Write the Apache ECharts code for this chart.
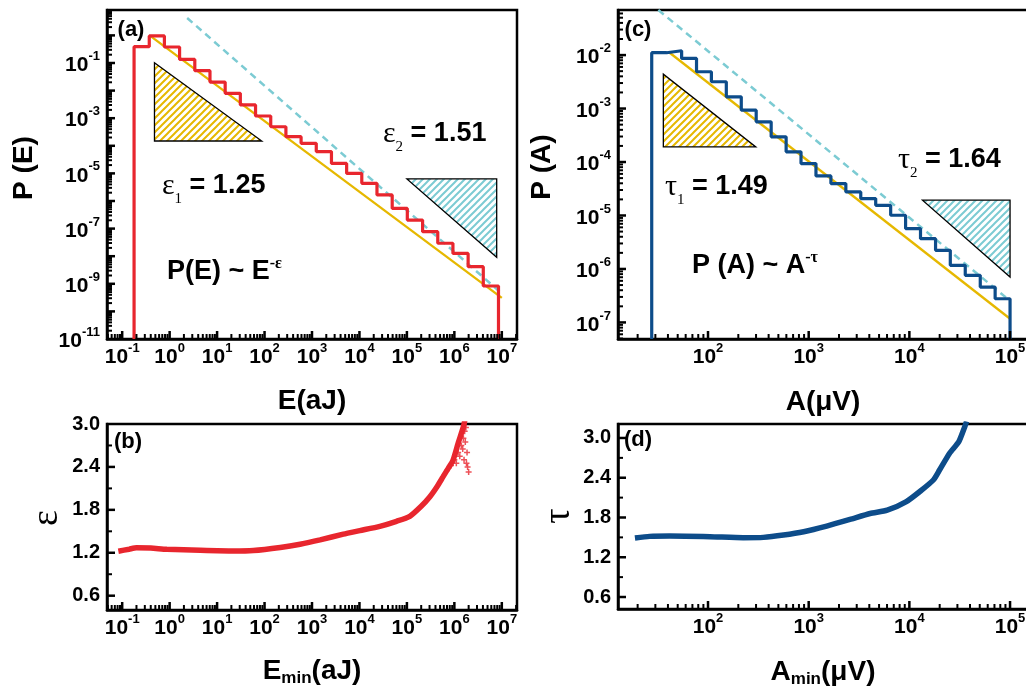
<!DOCTYPE html>
<html>
<head>
<meta charset="utf-8">
<script src="https://cdn.jsdelivr.net/npm/echarts@6/dist/echarts.min.js"></script>
<style>
  html, body { margin: 0; padding: 0; background: #fff; }
  #chart { width: 1026px; height: 689px; }
</style>
</head>
<body>
<div id="chart"></div>
<script>
// ---- (a) energy distribution: log bins (aJ) and probability per bin
const eEdges = [0.178, 0.372, 0.776, 1.62, 3.39, 7.08, 14.8, 30.9, 64.6, 135, 282, 589, 1230,
  2570, 5370, 11200, 23400, 49000, 102000, 214000, 447000, 933000, 1950000, 4070000, 8510000];
const eProb = [0.389, 0.955, 0.380, 0.135, 0.0525, 0.0204, 7.94e-3, 3.02e-3, 1.20e-3, 4.90e-4,
  2.14e-4, 1.23e-4, 6.17e-5, 2.29e-5, 1.00e-5, 4.37e-6, 1.66e-6, 5.37e-7, 2.04e-7, 7.76e-8,
  2.95e-8, 1.26e-8, 4.17e-9, 8.32e-10];
// fitted power laws, end points [E, P]
const eFit1 = [[0.39, 0.955], [1.0e7, 3.09e-10]];   // eps1 = 1.25
const eFit2 = [[2.34, 4.27], [9.8e6, 4.6e-10]];     // eps2 = 1.51
// slope triangles [x, y] vertices
const eTri1 = [[0.479, 0.102], [0.479, 1.49e-4], [87.3, 1.49e-4]];
const eTri2 = [[1.0e5, 6.3e-6], [7.8e6, 6.3e-6], [7.8e6, 9.1e-9]];

// ---- (b) exponent vs E_min
const epsEmin = [0.083, 0.14, 0.20, 0.40, 0.87, 4.4, 22, 58, 214, 562, 1480, 4570, 10200, 26900,
  60300, 115000, 200000, 302000, 427000, 575000, 741000, 933000, 1200000, 1550000, 1660000];
const epsVal = [1.222, 1.25, 1.27, 1.265, 1.25, 1.235, 1.225, 1.232, 1.275, 1.32, 1.38, 1.46,
  1.51, 1.57, 1.64, 1.71, 1.85, 1.98, 2.12, 2.26, 2.38, 2.49, 2.73, 2.96, 3.05];
const epsNoiseX = [7.0e5, 8.5e5, 1.0e6, 1.1e6, 1.2e6, 1.3e6, 1.4e6, 1.5e6, 1.55e6, 1.6e6, 1.65e6,
  1.7e6, 1.75e6, 1.8e6, 1.85e6, 1.9e6, 2.0e6];
const epsNoiseY = [2.35, 2.42, 2.5, 2.45, 2.6, 2.55, 2.7, 2.65, 2.8, 2.5, 2.9, 2.75, 2.95, 2.45,
  2.6, 2.4, 2.33];

// ---- (c) amplitude distribution: log bins (uV) and probability per bin
const aEdges = [27.6, 38.8, 54.7, 76.9, 108, 152, 214, 301, 424, 597, 839, 1181, 1662, 2339,
  3290, 4630, 6520, 9170, 12900, 18200, 25500, 35900, 50600, 71100, 100000];
const aProb = [0.01107, 0.01205, 8.67e-3, 4.88e-3, 3.17e-3, 1.66e-3, 9.33e-4, 5.65e-4, 2.96e-4,
  1.55e-4, 9.35e-5, 5.50e-5, 3.95e-5, 2.76e-5, 2.07e-5, 1.55e-5, 1.01e-5, 5.68e-6, 3.69e-6,
  2.23e-6, 1.17e-6, 7.59e-7, 4.59e-7, 2.77e-7];
const aFit1 = [[40.4, 0.01153], [100000, 1.17e-7]];  // tau1 = 1.49
const aFit2 = [[32.1, 0.0697], [93300, 2.82e-7]];    // tau2 = 1.64
const aTri1 = [[36, 4.4e-3], [36, 1.92e-4], [298, 1.92e-4]];
const aTri2 = [[13500, 1.93e-5], [1.0e5, 1.93e-5], [1.0e5, 7.06e-7]];

// ---- (d) exponent vs A_min
const tauAmin = [18.8, 26.3, 41.7, 105, 224, 355, 562, 891, 1510, 2570, 4070, 6030, 9330, 12900,
  17400, 20000, 25100, 30900, 35500, 37000];
const tauVal = [1.49, 1.515, 1.52, 1.51, 1.495, 1.50, 1.535, 1.585, 1.67, 1.77, 1.86, 1.91, 2.04,
  2.2, 2.37, 2.52, 2.77, 2.94, 3.17, 3.25];

const RED = '#e8262e', BLUE = '#0d4c8a', YELLOW = '#e6b800', CYAN = '#7ccbd3';
const FONT = 'Liberation Sans, Arial, sans-serif';
const SERIF = 'Liberation Serif, Times New Roman, serif';
const lg = Math.log10;

function range(a, b) { const r = []; for (let i = a; i <= b; i++) r.push(i); return r; }
function logMinor(lo, hi) {
  const out = [];
  for (let k = Math.floor(lo); k <= Math.ceil(hi); k++)
    for (let m = 2; m <= 9; m++) { const v = k + lg(m); if (v > lo && v < hi) out.push(v); }
  return out;
}
function stepPts(edges, vals, floor) {
  const pts = [[lg(edges[0]), floor]];
  vals.forEach((v, i) => { pts.push([lg(edges[i]), lg(v)]); pts.push([lg(edges[i + 1]), lg(v)]); });
  pts.push([lg(edges[edges.length - 1]), floor]);
  return pts;
}
const logPts = pts => pts.map(p => [lg(p[0]), lg(p[1])]);
const logX = (xs, ys) => xs.map((x, i) => [lg(x), ys[i]]);
const triRow = tri => [].concat(...logPts(tri));

function hatch(color) {
  const s = 7, c = document.createElement('canvas');
  c.width = s; c.height = s;
  const g = c.getContext('2d');
  g.fillStyle = '#fff'; g.fillRect(0, 0, s, s);
  g.strokeStyle = color; g.lineWidth = 2;
  g.beginPath();
  g.moveTo(0, s); g.lineTo(s, 0);
  g.moveTo(-s / 2, s / 2); g.lineTo(s / 2, -s / 2);
  g.moveTo(s / 2, s * 1.5); g.lineTo(s * 1.5, s / 2);
  g.stroke();
  return { image: c, repeat: 'repeat' };
}
const yellowHatch = hatch(YELLOW), cyanHatch = hatch(CYAN);

const powRich = {
  b: { fontFamily: FONT, fontWeight: 'bold', fontSize: 21, lineHeight: 26, verticalAlign: 'bottom', color: '#000' },
  s: { fontFamily: FONT, fontWeight: 'bold', fontSize: 13, lineHeight: 13, verticalAlign: 'top', color: '#000' }
};
const powFmt = v => '{b|10}{s|' + Math.round(v) + '}';

function axis(grid, min, max, labels, label) {
  return {
    type: 'value', gridIndex: grid, min, max,
    axisLine: { show: true, onZero: false, lineStyle: { color: '#000', width: 2.5 } },
    axisTick: { show: false },
    axisLabel: Object.assign({ show: true, customValues: labels, color: '#000' }, label),
    splitLine: { show: false }
  };
}
const powX = { margin: 3, formatter: powFmt, rich: powRich };
const powY = { margin: 7, formatter: powFmt, rich: powRich };
const linY = { margin: 7, formatter: v => v.toFixed(1), fontFamily: FONT, fontWeight: 'bold', fontSize: 20 };

const eX = [-1.32, 7.32], aX = [1.106, 5.218];
const eY = [-11, 0.92], bY = [0.4, 3.0], aY = [-7.31, -1.157], dY = [0.419, 3.211];
const linMajor = [0.6, 1.2, 1.8, 2.4, 3.0], linMinor = [0.9, 1.5, 2.1, 2.7];

const xAxis = [
  axis(0, eX[0], eX[1], range(-1, 7), powX),
  axis(1, eX[0], eX[1], range(-1, 7), powX),
  axis(2, aX[0], aX[1], range(2, 5), powX),
  axis(3, aX[0], aX[1], range(2, 5), powX)
];
const yAxis = [
  axis(0, eY[0], eY[1], [-11, -9, -7, -5, -3, -1], powY),
  axis(1, bY[0], bY[1], linMajor, linY),
  axis(2, aY[0], aY[1], range(-7, -2), powY),
  axis(3, dY[0], dY[1], linMajor, linY)
];

// inward tick marks: rows [x, y, orient(0 = on x axis, 1 = on y axis), length]
function tickRows(xr, yr, xMaj, xMin, yMaj, yMin) {
  const rows = [];
  xMaj.forEach(v => rows.push([v, yr[0], 0, 8]));
  xMin.forEach(v => rows.push([v, yr[0], 0, 5]));
  yMaj.forEach(v => rows.push([xr[0], v, 1, 8]));
  yMin.forEach(v => rows.push([xr[0], v, 1, 5]));
  return rows;
}
function ticks(ai, rows) {
  return {
    type: 'custom', xAxisIndex: ai, yAxisIndex: ai, silent: true, animation: false, z: 5,
    data: rows,
    renderItem: (params, api) => {
      const p = api.coord([api.value(0), api.value(1)]);
      const len = api.value(3), w = len > 6 ? 2.5 : 2;
      const end = api.value(2) === 0 ? [p[0], p[1] - len] : [p[0] + len, p[1]];
      return { type: 'line', shape: { x1: p[0], y1: p[1], x2: end[0], y2: end[1] },
        style: { stroke: '#000', lineWidth: w } };
    }
  };
}

function line(ai, data, color, width, extra) {
  return Object.assign({
    type: 'line', xAxisIndex: ai, yAxisIndex: ai, data, showSymbol: false, symbol: 'none',
    silent: true, animation: false, z: 3, lineStyle: { color, width }
  }, extra || {});
}
function triangles(ai, tris, fill) {
  return {
    type: 'custom', xAxisIndex: ai, yAxisIndex: ai, silent: true, animation: false, z: 2,
    data: tris.map(triRow),
    renderItem: (params, api) => {
      const p = [0, 1, 2].map(i => api.coord([api.value(2 * i), api.value(2 * i + 1)]));
      return { type: 'polygon', shape: { points: p }, style: { fill, stroke: '#000', lineWidth: 1.3 } };
    }
  };
}

const series = [
  // (a)
  line(0, logPts(eFit1), YELLOW, 2.3, { z: 2 }),
  line(0, logPts(eFit2), CYAN, 2.5, { z: 2, lineStyle: { color: CYAN, width: 2.5, type: [7, 5] } }),
  triangles(0, [eTri1], yellowHatch),
  triangles(0, [eTri2], cyanHatch),
  line(0, stepPts(eEdges, eProb, eY[0]), RED, 3.2),
  ticks(0, tickRows(eX, eY, range(-1, 7), logMinor(eX[0], eX[1]), range(-10, 0), logMinor(eY[0], eY[1]))),
  // (b)
  line(1, logX(epsEmin, epsVal), RED, 5.5, { smooth: 0.2 }),
  { type: 'scatter', xAxisIndex: 1, yAxisIndex: 1, silent: true, animation: false, z: 3,
    symbol: 'path://M3,0h2v3h3v2h-3v3h-2v-3h-3v-2h3z', symbolSize: 6,
    itemStyle: { color: RED }, data: logX(epsNoiseX, epsNoiseY) },
  ticks(1, tickRows(eX, bY, range(-1, 7), logMinor(eX[0], eX[1]), linMajor.slice(0, 4), linMinor)),
  // (c)
  line(2, logPts(aFit1), YELLOW, 2.3, { z: 2 }),
  line(2, logPts(aFit2), CYAN, 2.5, { z: 2, lineStyle: { color: CYAN, width: 2.5, type: [7, 5] } }),
  triangles(2, [aTri1], yellowHatch),
  triangles(2, [aTri2], cyanHatch),
  line(2, stepPts(aEdges, aProb, aY[0]), BLUE, 3.2),
  ticks(2, tickRows(aX, aY, range(2, 5), logMinor(aX[0], aX[1]), range(-7, -2), logMinor(aY[0], aY[1]))),
  // (d)
  line(3, logX(tauAmin, tauVal), BLUE, 5.5, { smooth: 0.2 }),
  ticks(3, tickRows(aX, dY, range(2, 5), logMinor(aX[0], aX[1]), linMajor, linMinor))
];

const gridBase = { show: true, borderColor: '#000', borderWidth: 2.5, containLabel: false, outerBoundsMode: 'none' };
const grid = [
  Object.assign({ left: 107, top: 10, width: 410, height: 329 }, gridBase),
  Object.assign({ left: 107, top: 424, width: 410, height: 186 }, gridBase),
  Object.assign({ left: 618, top: 10, width: 414, height: 329 }, gridBase),
  Object.assign({ left: 618, top: 424, width: 414, height: 185 }, gridBase)
];

const rich = {
  t: { fontFamily: FONT, fontWeight: 'bold', fontSize: 28, lineHeight: 32, verticalAlign: 'middle', color: '#000' },
  m: { fontFamily: FONT, fontWeight: 'bold', fontSize: 17, lineHeight: 17, verticalAlign: 'bottom', color: '#000' },
  g: { fontFamily: SERIF, fontSize: 30, lineHeight: 42, verticalAlign: 'middle', color: '#000' },
  sub: { fontFamily: SERIF, fontSize: 15, lineHeight: 15, verticalAlign: 'bottom', color: '#000' },
  n: { fontFamily: FONT, fontWeight: 'bold', fontSize: 27, lineHeight: 42, verticalAlign: 'middle', color: '#000' },
  nn: { fontFamily: FONT, fontWeight: 'bold', fontSize: 27, lineHeight: 32, verticalAlign: 'middle', color: '#000' },
  sup: { fontFamily: SERIF, fontWeight: 'bold', fontSize: 16, lineHeight: 16, verticalAlign: 'top', color: '#000' },
  p: { fontFamily: FONT, fontWeight: 'bold', fontSize: 22, color: '#000' },
  big: { fontFamily: SERIF, fontSize: 38, color: '#000' }
};
function txt(x, y, text, align, rot) {
  return { type: 'text', x, y, rotation: rot || 0, z: 100, silent: true,
    style: { text, rich, align: align || 'center', verticalAlign: 'middle' } };
}
const graphic = [
  txt(131, 30, '{p|(a)}'), txt(128, 442, '{p|(b)}'), txt(638, 30, '{p|(c)}'), txt(638, 440, '{p|(d)}'),
  txt(162, 186, '{g|ε}{sub|1}{n| = 1.25}', 'left'),
  txt(383, 134, '{g|ε}{sub|2}{n| = 1.51}', 'left'),
  txt(167, 272, '{nn|P(E) ~ E}{sup|-ε}', 'left'),
  txt(665, 187, '{g|τ}{sub|1}{n| = 1.49}', 'left'),
  txt(898, 160, '{g|τ}{sub|2}{n| = 1.64}', 'left'),
  txt(692, 266, '{nn|P (A) ~ A}{sup|-τ}', 'left'),
  txt(24, 168, '{t|P (E)}', 'center', Math.PI / 2),
  txt(542, 167, '{t|P (A)}', 'center', Math.PI / 2),
  txt(312, 401, '{t|E(aJ)}'),
  txt(823, 402, '{t|A(μV)}'),
  txt(47, 518, '{big|ε}', 'center', Math.PI / 2),
  txt(559, 516, '{big|τ}', 'center', Math.PI / 2),
  txt(312, 671, '{t|E}{m|min}{t|(aJ)}'),
  txt(823, 672, '{t|A}{m|min}{t|(μV)}')
];

const chart = echarts.init(document.getElementById('chart'));
chart.setOption({
  backgroundColor: '#fff',
  animation: false,
  grid, xAxis, yAxis, series, graphic
});
</script>
</body>
</html>
